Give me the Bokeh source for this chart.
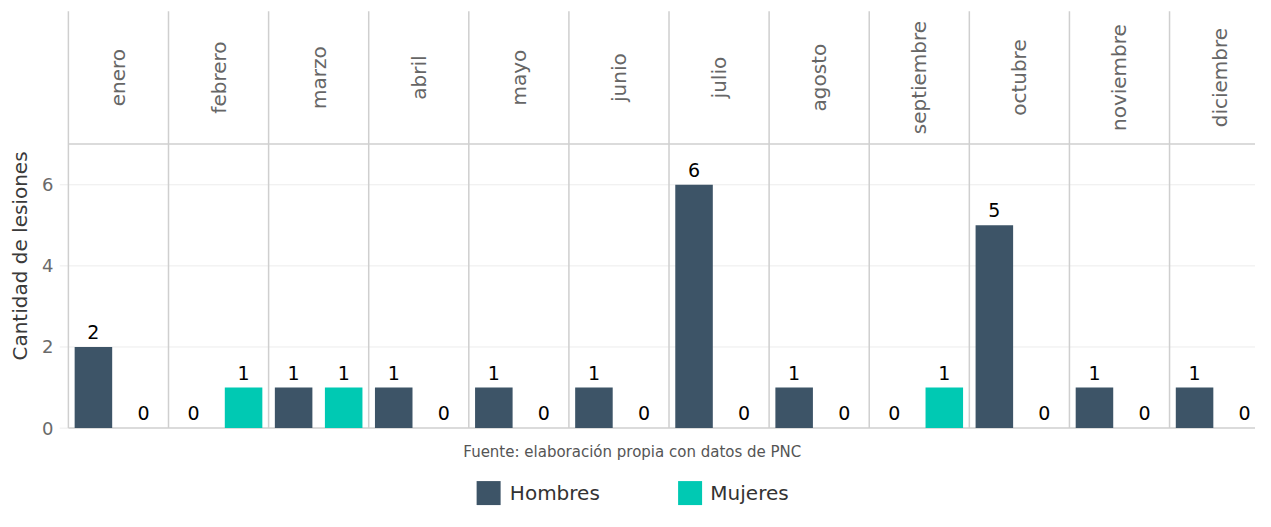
from bokeh.plotting import figure
from bokeh.models import ColumnDataSource, Range1d, LinearAxis, FixedTicker
from bokeh.core.properties import value
from bokeh.embed import file_html
from bokeh.resources import INLINE
import math

# ---------------- data ----------------
meses = ["enero", "febrero", "marzo", "abril", "mayo", "junio", "julio",
         "agosto", "septiembre", "octubre", "noviembre", "diciembre"]
hombres = [2, 0, 1, 1, 1, 1, 6, 1, 0, 5, 1, 1]
mujeres = [0, 1, 1, 0, 0, 0, 0, 0, 1, 0, 0, 0]
series = ["Hombres", "Mujeres"]
colores = ["#3d5467", "#00c9b3"]
y_ticks = [0, 2, 4, 6]
titulo_y = "Cantidad de lesiones"
fuente = "Fuente: elaboración propia con datos de PNC"

# ---------------- layout ----------------
W, H = 1255, 511
FONT = "DejaVu Sans"
# reference-pixel geometry: panel 0 starts at x=69, width 101.36 px;
# y = 0 at 441, 41.83 px per unit
PX_X, ORG_X = 101.36, 69.0
PX_Y, ORG_Y = 41.83, 441.0

def xd(px):
    return (px - ORG_X) / PX_X

def yd(py):
    return (ORG_Y - py) / PX_Y

X0, X1 = xd(60), xd(1271)
Y0, Y1 = yd(527), yd(0)
BORDER_LEFT = int(round(60 * W / 1271.0))
PANEL_TOP = yd(148)
STRIP_TOP = yd(11)
LABEL_GAP = 15.5 / PX_Y

p = figure(width=W, height=H, output_backend="svg", toolbar_location=None,
           x_range=Range1d(X0, X1), y_range=Range1d(Y0, Y1),
           x_axis_location=None, y_axis_location=None,
           min_border=0, min_border_left=BORDER_LEFT, min_border_right=0,
           min_border_top=0, min_border_bottom=0)
p.outline_line_color = None
p.xgrid.visible = False
p.ygrid.visible = False
p.background_fill_color = "white"
p.border_fill_color = "white"

yaxis = LinearAxis(ticker=FixedTicker(ticks=y_ticks))
yaxis.axis_line_color = None
yaxis.major_tick_line_color = None
yaxis.minor_tick_line_color = None
yaxis.major_tick_out = 0
yaxis.minor_tick_out = 0
yaxis.major_label_standoff = 6
yaxis.major_label_text_font = FONT
yaxis.major_label_text_font_size = "18px"
yaxis.major_label_text_color = "#6a6a6a"
yaxis.axis_label = titulo_y
yaxis.axis_label_text_font = FONT
yaxis.axis_label_text_font_size = "20px"
yaxis.axis_label_text_font_style = "normal"
yaxis.axis_label_text_color = "#3a3a3a"
yaxis.axis_label_standoff = 7
p.add_layout(yaxis, "left")

n = len(meses)
# grid lines
p.segment(x0=[X0] * 3, x1=[n] * 3, y0=y_ticks[1:], y1=y_ticks[1:],
          line_color="#ececec", line_width=1)
p.segment(x0=[X0], x1=[0], y0=[0], y1=[0], line_color="#ececec", line_width=1)

# panel separators and borders
sep = list(range(n + 1))
p.segment(x0=sep, x1=sep, y0=[0] * len(sep), y1=[STRIP_TOP] * len(sep),
          line_color="#cfcfcf", line_width=1.5)
p.segment(x0=[0, 0], x1=[n, n], y0=[0, PANEL_TOP], y1=[0, PANEL_TOP],
          line_color="#cfcfcf", line_width=1.5)

# strip labels
p.text(x=[i + 0.5 for i in range(n)], y=[(PANEL_TOP + STRIP_TOP) / 2] * n,
       text=meses, angle=math.pi / 2, text_align="center",
       text_baseline="middle", text_font=value(FONT),
       text_font_size="20px", text_color="#666666")

# bars
offsets = [0.25, 0.75]
for k, (vals, col) in enumerate(zip([hombres, mujeres], colores)):
    src = ColumnDataSource(dict(
        x=[i + offsets[k] for i in range(n)],
        top=vals,
        ly=[v + LABEL_GAP for v in vals],
        lab=[str(v) for v in vals],
    ))
    p.vbar(x="x", top="top", bottom=0, width=0.375, source=src,
           fill_color=col, line_color=None)
    p.text(x="x", y="ly", text="lab", source=src, text_align="center",
           text_baseline="alphabetic",
           text_font=value(FONT), text_font_size="19px", text_color="black")

# caption
p.text(x=[xd(640)], y=[yd(466)], text=[fuente], text_align="center",
       text_baseline="middle", text_font=value(FONT), text_font_size="15px",
       text_color="#555555")

# legend (manual)
leg_y = yd(508)
sq_x = [xd(494.5), xd(698.5)]
tx_x = [xd(516), xd(719)]
p.rect(x=sq_x, y=[leg_y] * 2, width=24, height=24, width_units="screen",
       height_units="screen", fill_color=colores, line_color=None)
p.text(x=tx_x, y=[leg_y] * 2, text=series, text_align="left",
       text_baseline="middle", text_font=value(FONT), text_font_size="20px",
       text_color="#333333")

open("out.html", "w").write(file_html(p, INLINE))
